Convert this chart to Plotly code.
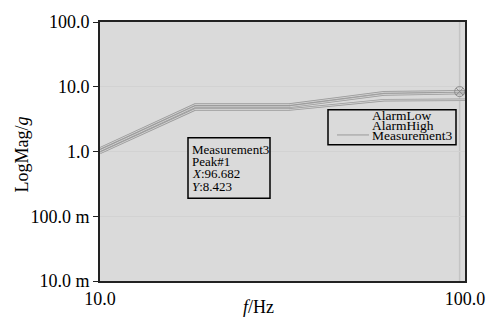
import plotly.graph_objects as go

freq = [10, 18.2, 33, 60, 100]
alarm_high = [1.12, 5.3, 5.3, 8.2, 8.5]
measurement3 = [1.03, 4.9, 4.9, 7.6, 8.0]
alarm_low = [0.95, 4.45, 4.45, 6.2, 6.3]
peak_x = [96.682]
peak_y = [8.423]
y_tickvals = [0.01, 0.1, 1, 10, 100]
y_ticktext = ["10.0 m", "100.0 m", "1.0", "10.0", "100.0"]
x_tickvals = [10, 100]
x_ticktext = ["10.0", "100.0"]
legend_names = ["AlarmLow", "AlarmHigh", "Measurement3"]
peak_lines = ["Measurement3", "Peak#1", "<i>X</i>:%.3f" % peak_x[0], "<i>Y</i>:%.3f" % peak_y[0]]

serif = "Liberation Serif"
L, R, T, B = 100, 465, 15, 281
def px(x):
    return (x - L) / (R - L)
def py(y):
    return (B - y) / (B - T)

fig = go.Figure()
for name, ys in [("AlarmHigh", alarm_high), ("Measurement3", measurement3), ("AlarmLow", alarm_low)]:
    fig.add_trace(go.Scatter(x=freq, y=ys, mode="lines", name=name,
                             line=dict(color="#9a9a9a", width=2.6), showlegend=False))
    fig.add_trace(go.Scatter(x=freq, y=ys, mode="lines", name=name,
                             line=dict(color="#d6d6d6", width=0.9), showlegend=False))
fig.add_trace(go.Scatter(x=peak_x, y=peak_y, mode="markers", showlegend=False,
                         marker=dict(symbol="circle-x-open", size=10, color="#8a8a8a", line=dict(width=1))))

fig.add_shape(type="line", xref="x", yref="paper", x0=peak_x[0], x1=peak_x[0], y0=0, y1=1,
              line=dict(color="#c4c4c4", width=1.5), layer="below")

fig.update_layout(
    width=497, height=324,
    margin=dict(l=L, r=497 - R, t=T, b=324 - B),
    paper_bgcolor="white", plot_bgcolor="#dadada",
    font=dict(family=serif, size=18, color="black"),
)
fig.update_xaxes(type="log", range=[1, 2], tickvals=x_tickvals, ticktext=x_ticktext,
                 showline=True, linecolor="#222", linewidth=2, mirror=True,
                 ticks="", showgrid=True, gridcolor="#d2d2d2", tickfont=dict(size=18, family=serif))
fig.update_yaxes(type="log", range=[-2, 2], tickvals=y_tickvals, ticktext=y_ticktext,
                 showline=True, linecolor="#222", linewidth=2, mirror=True,
                 ticks="outside", ticklen=5, tickcolor="#222", showgrid=True, gridcolor="#d2d2d2",
                 tickfont=dict(size=18, family=serif))

# axis titles
fig.add_annotation(text="<i>f</i>/Hz", xref="paper", yref="paper", x=px(258), y=py(308),
                   showarrow=False, font=dict(size=18, family=serif), xanchor="center", yanchor="middle")
fig.add_annotation(text="LogMag/<i>g</i>", xref="paper", yref="paper", x=px(22), y=py(151), textangle=-90,
                   showarrow=False, font=dict(size=18, family=serif), xanchor="center", yanchor="middle")

# peak info box
fig.add_shape(type="rect", xref="paper", yref="paper", x0=px(188), x1=px(270),
              y0=py(196), y1=py(134), line=dict(color="black", width=1.5), fillcolor="#dadada")
for i, t in enumerate(peak_lines):
    fig.add_annotation(text=t, xref="paper", yref="paper", x=px(191), y=py(146 + 12.5 * i),
                       xanchor="left", yanchor="middle", align="left", showarrow=False,
                       font=dict(size=13, family=serif), borderpad=0)

# legend box
fig.add_shape(type="rect", xref="paper", yref="paper", x0=px(328), x1=px(456),
              y0=py(141), y1=py(105), line=dict(color="black", width=1.5))
for i, t in enumerate(legend_names):
    fig.add_annotation(text=t, xref="paper", yref="paper", x=px(371), y=py(111 + 10.5 * i),
                       xanchor="left", yanchor="middle", align="left", showarrow=False,
                       font=dict(size=13.5, family=serif), borderpad=0)
fig.add_shape(type="line", xref="paper", yref="paper", x0=px(337), x1=px(369),
              y0=py(131), y1=py(131), line=dict(color="#999", width=1))

fig.write_html("out.html")
